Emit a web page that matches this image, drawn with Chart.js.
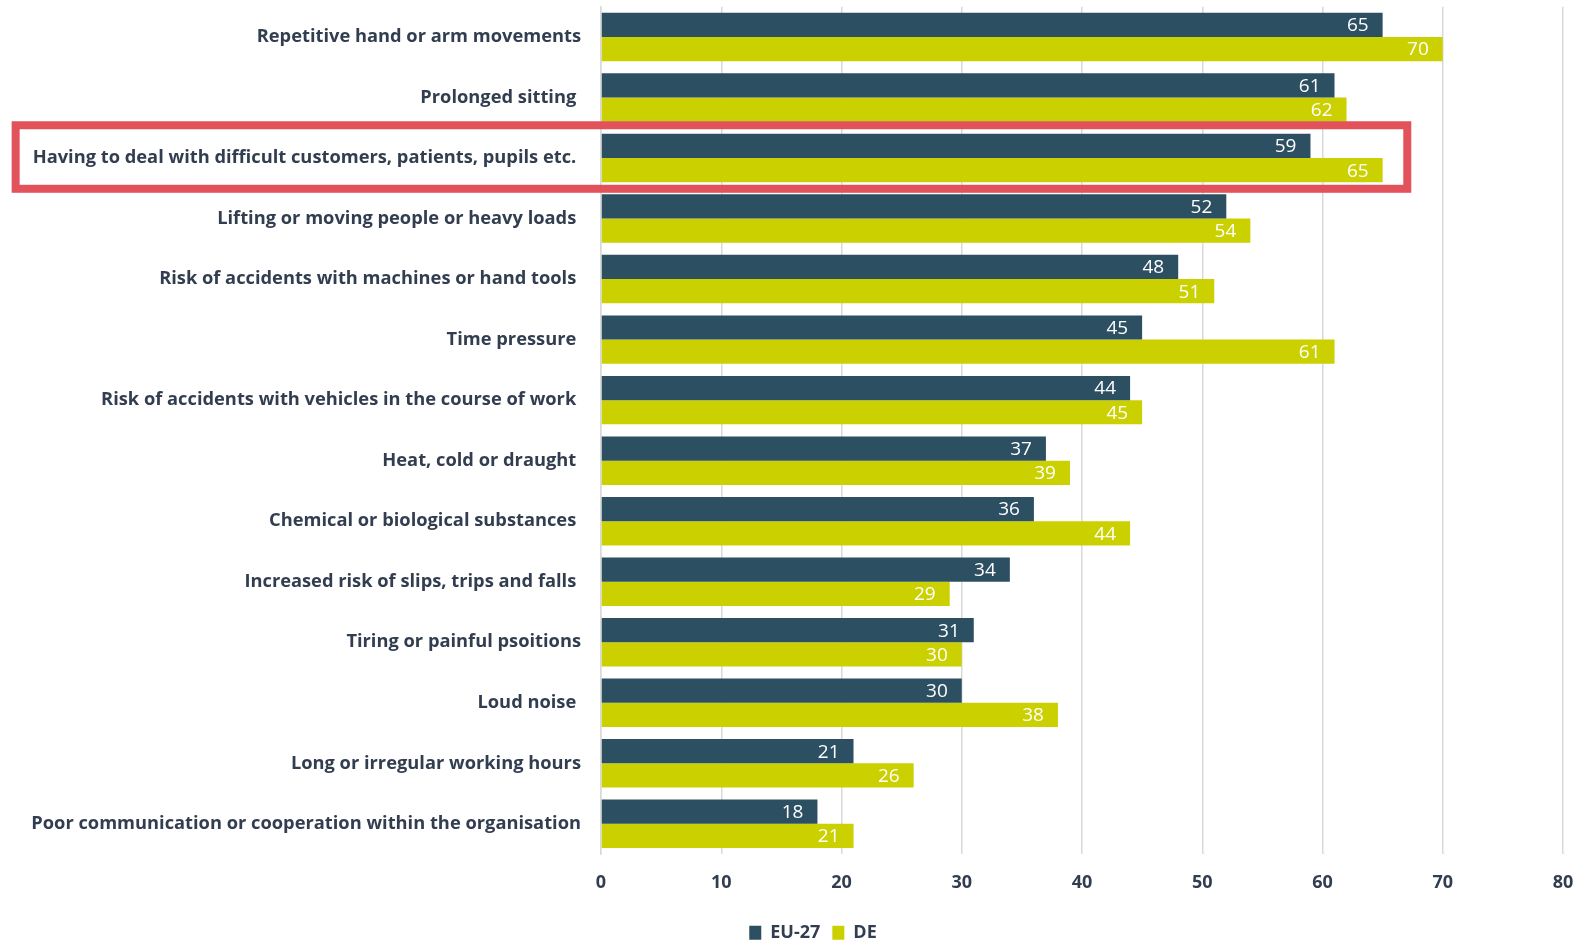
<!DOCTYPE html>
<html>
<head>
<meta charset="utf-8">
<script src="https://cdn.jsdelivr.net/npm/chart.js@4.4.1/dist/chart.umd.min.js"></script>
<style>
  html, body { margin: 0; padding: 0; background: #ffffff; }
  #wrap { width: 1583px; height: 943px; }
</style>
</head>
<body>
<div id="wrap"><canvas id="c" width="1583" height="943"></canvas></div>
<script>
const categories = [
  "Repetitive hand or arm movements",
  "Prolonged sitting ",
  "Having to deal with difficult customers, patients, pupils etc. ",
  "Lifting or moving people or heavy loads ",
  "Risk of accidents with machines or hand tools ",
  "Time pressure ",
  "Risk of accidents with vehicles in the course of work ",
  "Heat, cold or draught ",
  "Chemical or biological substances ",
  "Increased risk of slips, trips and falls ",
  "Tiring or painful psoitions",
  "Loud noise ",
  "Long or irregular working hours",
  "Poor communication or cooperation within the organisation"
];
const seriesNames = ["EU-27", "DE"];
const eu27 = [65, 61, 59, 52, 48, 45, 44, 37, 36, 34, 31, 30, 21, 18];
const de = [70, 62, 65, 54, 51, 61, 45, 39, 44, 29, 30, 38, 26, 21];
const xTicks = [0, 10, 20, 30, 40, 50, 60, 70, 80];
const highlightIndex = 2;
const highlightRightValue = 67.05;

const TEXT = "#323e50";
const FONT = "'Open Sans', Lato, sans-serif";
const LABEL_SIZE = 18.3;

const valueLabels = {
  id: "valueLabels",
  afterDatasetsDraw(chart) {
    const ctx = chart.ctx;
    ctx.save();
    ctx.font = "400 19px " + FONT;
    ctx.fillStyle = "#ffffff";
    ctx.textAlign = "right";
    ctx.textBaseline = "middle";
    chart.data.datasets.forEach((ds, di) => {
      const meta = chart.getDatasetMeta(di);
      meta.data.forEach((bar, i) => {
        ctx.fillText(String(ds.data[i]), bar.x - 14, bar.y + 1);
      });
    });
    ctx.restore();
  }
};

const highlightBox = {
  id: "highlightBox",
  afterDraw(chart) {
    const y = chart.scales.y, x = chart.scales.x;
    const ctx = chart.ctx;
    const band = (y.getPixelForValue(1) - y.getPixelForValue(0));
    const cy = y.getPixelForValue(highlightIndex);
    ctx.save();
    ctx.font = "700 " + LABEL_SIZE + "px " + FONT;
    const tw = ctx.measureText(categories[highlightIndex]).width;
    const labelLeft = y.right - y.options.ticks.padding - tw;
    const left = labelLeft - 17;
    const right = x.getPixelForValue(highlightRightValue);
    const top = cy - band / 2 - 2.5;
    const bottom = cy + band / 2 + 0.5;
    ctx.strokeStyle = "#e1525b";
    ctx.lineWidth = 8;
    ctx.strokeRect(left, top, right - left, bottom - top);
    ctx.restore();
  }
};

// legend sits a little right of the canvas centre in the original
const legendShift = {
  id: "legendShift",
  afterLayout(chart) {
    const lg = chart.legend;
    if (lg) { lg.left += 31.5; lg.right += 31.5; }
  }
};

new Chart(document.getElementById("c"), {
  type: "bar",
  data: {
    labels: categories,
    datasets: [
      { label: seriesNames[0], data: eu27, backgroundColor: "#2c4f62", borderWidth: 0 },
      { label: seriesNames[1], data: de, backgroundColor: "#cbd000", borderWidth: 0 }
    ]
  },
  options: {
    indexAxis: "y",
    responsive: false,
    animation: false,
    devicePixelRatio: 1,
    categoryPercentage: 0.8,
    barPercentage: 1.0,
    layout: { padding: { top: 6.7, right: 20, bottom: -8.7, left: 0 } },
    scales: {
      x: {
        min: 0, max: 80,
        afterBuildTicks(scale) { scale.ticks = xTicks.map(v => ({ value: v })); },
        afterFit(scale) { scale.paddingLeft = 0; scale.paddingRight = 0; },
        grid: { color: "#d9d9d9", lineWidth: 1.5, drawTicks: false },
        border: { display: false },
        ticks: { color: TEXT, font: { family: FONT, size: 18, weight: "700" }, padding: 18 }
      },
      y: {
        afterFit(scale) { scale.width = 601; scale.paddingTop = 0; scale.paddingBottom = 0; },
        grid: { display: false, drawTicks: false },
        border: { display: true, color: "#d9d9d9", width: 1.5 },
        ticks: { color: TEXT, font: { family: FONT, size: LABEL_SIZE, weight: "700" }, padding: 20, autoSkip: false }
      }
    },
    plugins: {
      tooltip: { enabled: false },
      legend: {
        position: "bottom",
        labels: {
          color: TEXT,
          font: { family: FONT, size: 18, weight: "700" },
          boxWidth: 12, boxHeight: 14, padding: 12
        }
      }
    }
  },
  plugins: [valueLabels, highlightBox, legendShift]
});
</script>
</body>
</html>
